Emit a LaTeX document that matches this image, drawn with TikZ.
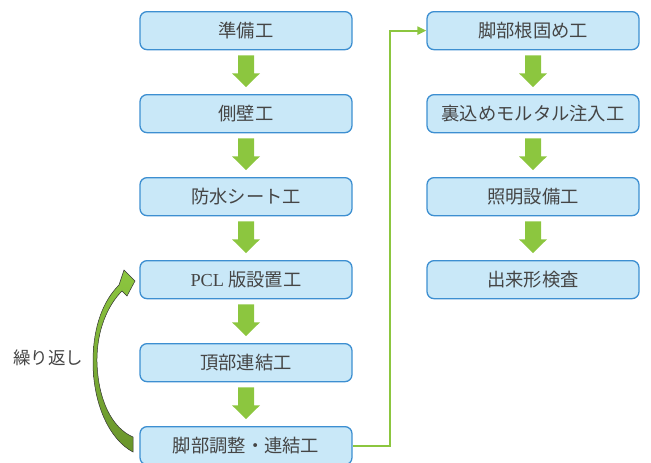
\documentclass[tikz,border=0pt]{standalone}
\usepackage{fontspec}
\setmainfont{Liberation Serif}
\newfontfamily\cjk{Noto Sans CJK JP}
\usetikzlibrary{calc,arrows.meta}
\definecolor{boxfill}{HTML}{C9E8F8}
\definecolor{boxline}{HTML}{3D8FD1}
\definecolor{arrgreen}{HTML}{8CC63F}
\definecolor{darkolive}{HTML}{6A952C}
\definecolor{txt}{HTML}{454545}
\tikzset{
  stepbox/.style={draw=boxline, fill=boxfill, line width=1.3pt, rounded corners=7pt,
    minimum width=212pt, minimum height=38pt, inner sep=0pt, anchor=north,
    text=txt, font=\fontsize{18.3}{21}\selectfont\cjk},
  blockarr/.style={fill=arrgreen},
  conn/.style={draw=arrgreen, line width=2.3pt, -{Triangle[length=9pt,width=8pt]}},
  lbl/.style={text=txt, font=\fontsize{17.5}{21}\selectfont\cjk}
}
\newcommand\blockarrow[2]{%
  \fill[blockarr] ($(#1.south)+(-8,5)$) -- ($(#1.south)+(8,5)$) -- ($(#1.south)+(8,23)$)
    -- ($(#1.south)+(14,23)$) -- ($(#2.north)+(0,-7)$) -- ($(#1.south)+(-14,23)$)
    -- ($(#1.south)+(-8,23)$) -- cycle;}
\begin{document}
\begin{tikzpicture}[x=1pt,y=-1pt]
\useasboundingbox (0,0) rectangle (651,463);
% left column
\node[stepbox] (b1) at (246,11) {準備工};
\node[stepbox] (b2) at (246,94) {側壁工};
\node[stepbox] (b3) at (246,177) {防水シート工};
\node[stepbox] (b4) at (246,260) {{\fontspec{Liberation Serif}PCL} 版設置工};
\node[stepbox] (b5) at (246,343) {頂部連結工};
\node[stepbox] (b6) at (246,426) {脚部調整・連結工};
% right column
\node[stepbox] (r1) at (533,11) {脚部根固め工};
\node[stepbox] (r2) at (533,94) {裏込めモルタル注入工};
\node[stepbox] (r3) at (533,177) {照明設備工};
\node[stepbox] (r4) at (533,260) {出来形検査};
% block arrows
\blockarrow{b1}{b2}
\blockarrow{b2}{b3}
\blockarrow{b3}{b4}
\blockarrow{b4}{b5}
\blockarrow{b5}{b6}
\blockarrow{r1}{r2}
\blockarrow{r2}{r3}
\blockarrow{r3}{r4}
% connector
\draw[conn] (b6.east) -- ++(37,0) |- (r1.west);
% curved repeat arrow
\shadedraw[top color=arrgreen, bottom color=darkolive, draw=black!80, line width=0.5pt]
  (133,437) .. controls (112,428) and (98,400) .. (97,362)
  .. controls (96.5,330) and (108,305) .. (122,291)
  -- (127,296) -- (135,281) -- (124,270) -- (119,285)
  .. controls (104,300) and (93,325) .. (93,362)
  .. controls (93,405) and (110,440) .. (133,452) -- cycle;
\node[lbl] (rep) at (48,358) {繰り返し};
\end{tikzpicture}
\end{document}
